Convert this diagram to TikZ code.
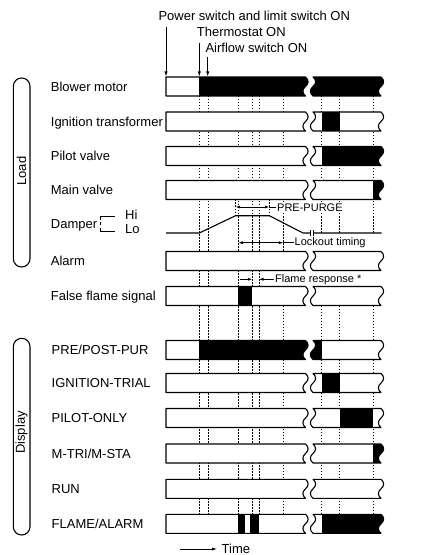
\documentclass[tikz,border=0pt]{standalone}
\usepackage{fontspec}
\setmainfont{Liberation Sans}
\usetikzlibrary{arrows.meta}

\newcommand\rowbar[2]{%
 \begin{scope}
  \clip (166,#1) -- (305.5,#1) .. controls (309,#1+3) and (309,#1+6.5) .. (305.5,#1+9.5) .. controls (302,#1+12.5) and (302,#1+16) .. (305.5,#1+19) -- (166,#1+19) -- cycle
        (313,#1) -- (381,#1) .. controls (384.5,#1+3) and (384.5,#1+6.5) .. (381,#1+9.5) .. controls (377.5,#1+12.5) and (377.5,#1+16) .. (381,#1+19) -- (313,#1+19) .. controls (309.5,#1+16) and (309.5,#1+12.5) .. (313,#1+9.5) .. controls (316.5,#1+6.5) and (316.5,#1+3) .. (313,#1) -- cycle;
  \fill[white] (160,#1) rectangle (390,#1+19);
  \foreach \a/\b in {#2}{\fill[black] (\a,#1) rectangle (\b,#1+19);}
 \end{scope}
 \draw[barline] (166,#1) -- (305.5,#1) .. controls (309,#1+3) and (309,#1+6.5) .. (305.5,#1+9.5) .. controls (302,#1+12.5) and (302,#1+16) .. (305.5,#1+19) -- (166,#1+19) -- cycle
        (313,#1) -- (381,#1) .. controls (384.5,#1+3) and (384.5,#1+6.5) .. (381,#1+9.5) .. controls (377.5,#1+12.5) and (377.5,#1+16) .. (381,#1+19) -- (313,#1+19) .. controls (309.5,#1+16) and (309.5,#1+12.5) .. (313,#1+9.5) .. controls (316.5,#1+6.5) and (316.5,#1+3) .. (313,#1) -- cycle;
}

\tikzset{
 barline/.style={line width=1.1bp, line join=round},
 dotln/.style={line width=0.75bp, dash pattern=on 1.5bp off 1.5bp},
 lbl/.style={anchor=base west, inner sep=0pt, font=\fontsize{13bp}{15bp}\selectfont},
 note/.style={anchor=west, inner sep=1bp, fill=white, font=\fontsize{11bp}{13bp}\selectfont},
 arr/.style={-{Latex[length=5bp,width=3.2bp]}, line width=0.75bp},
 dimarr/.style={{Latex[length=4.5bp,width=3bp]}-{Latex[length=4.5bp,width=3bp]}, line width=0.75bp},
 onearr/.style={-{Latex[length=4.5bp,width=3bp]}, line width=0.75bp},
 thin1/.style={line width=0.8bp},
}

\begin{document}
\begin{tikzpicture}[x=1bp,y=-1bp]
\useasboundingbox (0,0) rectangle (443,555);

% dotted time markers
\foreach \xx in {199.3,208,238.3,252.3,259}{\draw[dotln] (\xx,96) -- (\xx,514.3);}
\draw[dotln] (283.3,96) -- (283.3,251.5) (283.3,305.5) -- (283.3,514.3);
\foreach \xx in {321.5,339.5,373.3}{\draw[dotln] (\xx,96) -- (\xx,233) (\xx,305.5) -- (\xx,514.3);}
\draw[dotln] (235.5,199.5) -- (235.5,215.7) (269.3,199.5) -- (269.3,215.7);

% bars
\rowbar{77}{199.3/400}
\rowbar{112}{321.5/339.5}
\rowbar{146.5}{321.5/400}
\rowbar{180.5}{373.3/400}
\rowbar{251.5}{0/0}
\rowbar{286.5}{237.5/252.3}
\rowbar{340.5}{199.3/321.5}
\rowbar{373.5}{321.5/339.5}
\rowbar{408.5}{339.5/373.3}
\rowbar{444}{373.3/400}
\rowbar{479.3}{0/0}
\rowbar{514.3}{238/245,250/259,321.5/400}

% row labels
\node[lbl] (l1) at (50.7,91.2) {Blower motor};
\node[lbl] (l2) at (50.7,126.2) {Ignition transformer};
\node[lbl] (l3) at (50.7,160.7) {Pilot valve};
\node[lbl] (l4) at (50.7,194.7) {Main valve};
\node[lbl] (l5) at (50.7,228) {Damper};
\node[lbl] (l6) at (50.7,265.7) {Alarm};
\node[lbl] (l7) at (50.7,300.7) {False flame signal};
\node[lbl] (l8) at (51.5,354.7) {PRE/POST-PUR};
\node[lbl] (l9) at (51.5,387.7) {IGNITION-TRIAL};
\node[lbl] (l10) at (51.5,422.7) {PILOT-ONLY};
\node[lbl] (l11) at (51.5,458.2) {M-TRI/M-STA};
\node[lbl] (l12) at (51.5,493.5) {RUN};
\node[lbl] (l13) at (51.5,528.5) {FLAME/ALARM};

% damper Hi/Lo bracket
\draw[thin1] (115,216.7) -- (100.5,216.7) -- (100.5,220);
\draw[thin1] (100.5,222.3) -- (100.5,225.3);
\draw[thin1] (100.5,227.7) -- (100.5,231) -- (115,231);
\node[lbl] (hi) at (125,220) {Hi};
\node[lbl] (lo) at (125,233.8) {Lo};

% damper trace
\draw[barline] (166,233) -- (199.3,233) -- (235.5,215.7) -- (269.3,215.7) -- (303,233) -- (310.3,233)
  (313.7,233) -- (381.5,233);
\draw[thin1] (310.3,229.5) -- (310.3,237) (313.7,229.5) -- (313.7,237);

% PRE-PURGE
\coordinate (pp1) at (235.5,207);
\coordinate (pp2) at (269.3,207);
\node[note] (pptxt) at (276,208) {PRE-PURGE};
\draw[dimarr] (pp1) -- (pp2);
\draw[thin1] (pp2) -- (pptxt.west |- pp2);

% Lockout timing
\coordinate (lo1) at (238.3,242.7);
\coordinate (lo2) at (283.3,242.7);
\node[note] (lotxt) at (293.5,242.5) {Lockout timing};
\draw[dimarr] (lo1) -- (lo2);
\draw[thin1] (lo2) -- (lotxt.west |- lo2);

% Flame response
\coordinate (fr1) at (240,279.3);
\coordinate (fr2) at (252.3,279.3);
\coordinate (fr3) at (259,279.3);
\node[note] (frtxt) at (274,279.3) {Flame response *};
\draw[onearr] (fr1) -- (fr2);
\draw[onearr] (frtxt.west |- fr3) -- (fr3);

% top events
\node[lbl] (t1) at (158.3,20.5) {Power switch and limit switch ON};
\node[lbl] (t2) at (196.7,36.5) {Thermostat ON};
\node[lbl] (t3) at (205.3,53) {Airflow switch ON};
\coordinate (a1) at (166,27);
\coordinate (a2) at (199.3,43);
\coordinate (a3) at (207.7,57.5);
\draw[arr] (a1) -- (166,76.5);
\draw[arr] (a2) -- (199.3,76.5);
\draw[arr] (a3) -- (207.7,76.5);

% group capsules
\draw[barline, rounded corners=8.3bp] (13.3,78) rectangle (30,267);
\node[rotate=90, inner sep=0pt, font=\fontsize{13bp}{15bp}\selectfont] (load) at (21.5,171) {Load};
\draw[barline, rounded corners=8.3bp] (13.3,338.3) rectangle (30,535);
\node[rotate=90, inner sep=0pt, font=\fontsize{13bp}{15bp}\selectfont] (disp) at (21.5,432.5) {Display};

% time arrow
\coordinate (ta) at (180,549);
\node[lbl, anchor=west] (time) at (221.5,548.7) {Time};
\draw[arr] (ta) -- (217,549);
\end{tikzpicture}
\end{document}
